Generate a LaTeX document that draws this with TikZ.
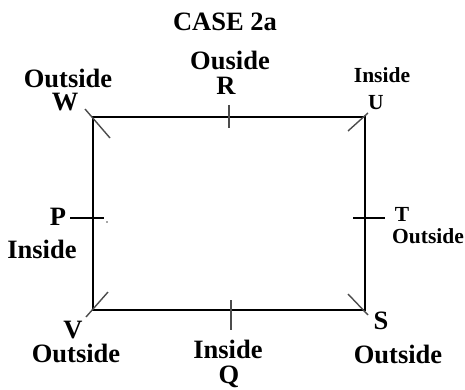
\documentclass[tikz,border=0pt]{standalone}
\usepackage{fontspec}
\setmainfont{Liberation Serif}

\begin{document}
\begin{tikzpicture}[x=0.5pt,y=-0.5pt,
        biglbl/.style={font=\bfseries\fontsize{13.25}{15}\selectfont, inner sep=0pt},
        smalllbl/.style={font=\bfseries\fontsize{10.75}{12}\selectfont, inner sep=0pt},
        tick/.style={line width=0.7pt, black!70}]

        \useasboundingbox (0,0) rectangle (465,390);

        % Corners and side points
        \coordinate (W) at (93,117);
        \coordinate (U) at (365,117);
        \coordinate (S) at (365,310);
        \coordinate (V) at (93,310);
        \coordinate (R) at (229,117);
        \coordinate (Q) at (231,310);
        \coordinate (P) at (93,218);
        \coordinate (T) at (365,218);

        % Rectangle
        \draw[line width=0.8pt] (W) -- (U) -- (S) -- (V) -- cycle;

        % Corner ticks
        \draw[tick] (W) ++(-8,-8) -- ++(25,29);
        \draw[tick] (U) ++(3,-4) -- ++(-20,18);
        \draw[tick] (V) ++(15,-18) -- ++(-22,25);
        \draw[tick] (S) ++(-17,-16) -- ++(20,21);

        % Side ticks
        \draw[tick] (R) ++(0,-12) -- ++(0,23);
        \draw[tick] (Q) ++(0,-10) -- ++(0,30);
        \draw[line width=0.7pt] (P) ++(-23,0) -- ++(34,0);
        \draw[line width=0.7pt] (T) ++(-12,0) -- ++(32,0);
        \fill[black!70] (107,222) circle (0.8);

        % Title
        \node[biglbl] (title) at (225,22) {CASE 2a};

        % Labels
        \node[biglbl] (Rtxt) at (230,60) {Ouside};
        \node[biglbl] (Rname) at (226,86) {R};
        \node[biglbl] (Wtxt) at (68,78) {Outside};
        \node[biglbl] (Wname) at (65,102) {W};
        \node[smalllbl] (Utxt) at (382,75) {Inside};
        \node[smalllbl] (Uname) at (376,103) {U};
        \node[biglbl] (Pname) at (58,217) {P};
        \node[biglbl] (Ptxt) at (42,249) {Inside};
        \node[smalllbl] (Tname) at (402,214) {T};
        \node[smalllbl] (Ttxt) at (428,236) {Outside};
        \node[biglbl] (Vname) at (73,330) {V};
        \node[biglbl] (Vtxt) at (76,353) {Outside};
        \node[biglbl] (Sname) at (381,321) {S};
        \node[biglbl] (Stxt) at (398,354) {Outside};
        \node[biglbl] (Qtxt) at (228,349) {Inside};
        \node[biglbl] (Qname) at (229,377) {Q};

\end{tikzpicture}
\end{document}
